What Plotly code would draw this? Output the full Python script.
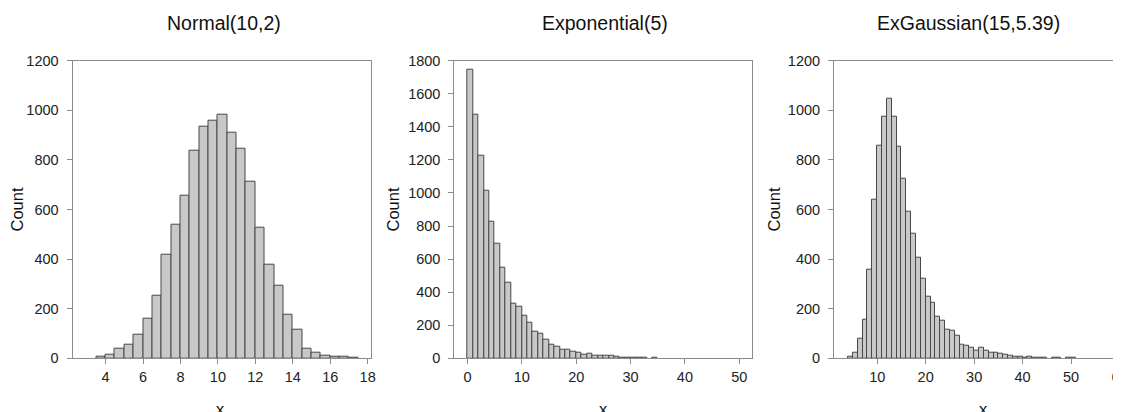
import plotly.graph_objects as go

# ---------------- data ----------------
normal_left = [3.5, 4.0, 4.5, 5.0, 5.5, 6.0, 6.5, 7.0, 7.5, 8.0, 8.5, 9.0, 9.5, 10.0,
               10.5, 11.0, 11.5, 12.0, 12.5, 13.0, 13.5, 14.0, 14.5, 15.0, 15.5, 16.0, 16.5, 17.0]
normal_counts = [7, 16, 40, 56, 97, 161, 254, 416, 538, 654, 836, 932, 957, 982,
                 911, 847, 711, 528, 377, 292, 176, 114, 38, 22, 11, 5, 7, 3]
normal_width = 0.5

expo_left = list(range(0, 35))
expo_counts = [1744, 1471, 1224, 1014, 828, 694, 546, 456, 328, 311,
               258, 216, 159, 147, 115, 84, 71, 50, 53, 37,
               32, 23, 28, 17, 18, 16, 13, 9, 6, 4,
               2, 1, 1, None, 1]
expo_width = 1.0

exg_left = list(range(4, 51))
exg_counts = [7, 23, 78, 157, 358, 638, 856, 974, 1047, 974,
              855, 726, 593, 503, 407, 319, 248, 225, 168, 150,
              114, 111, 91, 53, 51, 43, 32, 42, 30, 23,
              21, 19, 16, 11, 5, 5, 4, 5, 4, 1,
              1, None, 1, 1, None, 1, 1]
exg_width = 1.0

titles = ["Normal(10,2)", "Exponential(5)", "ExGaussian(15,5.39)"]
x_ticks = [list(range(4, 19, 2)), list(range(0, 51, 10)), list(range(10, 61, 10))]
y_ticks = [list(range(0, 1201, 200)), list(range(0, 1801, 200)), list(range(0, 1201, 200))]

# ---------------- layout geometry (screen pixels of the 1121x412 view) ----------------
PAGE_OFF = 8                      # default body margin of the html page
W, H = 1121 - PAGE_OFF, 412 - PAGE_OFF


def fx(px):
    return (px - PAGE_OFF) / W


def fy(py):
    return 1 - (py - PAGE_OFF) / H


panel_px = [(72.5, 371.0), (454.3, 752.3), (834.0, 1121.0)]
top_px, bot_px = 60.7, 358.3
x_ranges = [[2.23, 18.18], [-2.43, 52.4], [1.09, 60.3]]
y_ranges = [[0, 1200], [0, 1800], [0, 1200]]
title_x_px = [224, 605, 968]
title_y_px = 23
ylab_x_px = [16, 392, 773]
xlab_x_px = [220, 603, 983.5]
xlab_y_px = 409

FONT = "Liberation Sans, Arial, sans-serif"
AXIS_COL = "#8c8c8c"
BAR_FILL = "#c8c8c8"
BAR_LINE = "#474747"

fig = go.Figure()

datasets = [(normal_left, normal_counts, normal_width),
            (expo_left, expo_counts, expo_width),
            (exg_left, exg_counts, exg_width)]

for i, (lefts, counts, wdt) in enumerate(datasets):
    sfx = "" if i == 0 else str(i + 1)
    fig.add_trace(go.Bar(
        x=lefts, y=counts, width=wdt, offset=0,
        marker=dict(color=BAR_FILL, line=dict(color=BAR_LINE, width=1)),
        xaxis="x" + sfx, yaxis="y" + sfx, showlegend=False, hoverinfo="x+y"))

    x0, x1 = panel_px[i]
    common = dict(showgrid=False, zeroline=False, showline=True, linecolor=AXIS_COL,
                  linewidth=1, ticks="outside", ticklen=5, tickwidth=1, tickcolor=AXIS_COL,
                  tickfont=dict(family=FONT, size=14.5, color="#222222"), automargin=False,
                  ticklabeloverflow="allow")
    fig.layout["xaxis" + sfx] = dict(
        domain=[fx(x0), min(1.0, fx(x1))], range=x_ranges[i], tickmode="array",
        tickvals=x_ticks[i], anchor="y" + sfx, mirror=True,
        ticklabelstandoff=0, **common)
    fig.layout["yaxis" + sfx] = dict(
        domain=[fy(bot_px), fy(top_px)], range=y_ranges[i], tickmode="array",
        tickvals=y_ticks[i], anchor="x" + sfx, mirror=(i < 2),
        ticklabelstandoff=5, **common)

annotations = []
for i in range(3):
    annotations.append(dict(text=titles[i], xref="paper", yref="paper",
                            x=fx(title_x_px[i]), y=fy(title_y_px),
                            xanchor="center", yanchor="middle", showarrow=False,
                            font=dict(family=FONT, size=19.5, color="#111111")))
    annotations.append(dict(text="Count", xref="paper", yref="paper",
                            x=fx(ylab_x_px[i]), y=fy((top_px + bot_px) / 2),
                            xanchor="center", yanchor="middle", textangle=-90,
                            showarrow=False,
                            font=dict(family=FONT, size=16.5, color="#111111")))
    annotations.append(dict(text="x", xref="paper", yref="paper",
                            x=fx(xlab_x_px[i]), y=fy(xlab_y_px),
                            xanchor="center", yanchor="middle", showarrow=False,
                            font=dict(family=FONT, size=16.5, color="#111111")))

fig.update_layout(width=W, height=H, margin=dict(l=0, r=0, t=0, b=0),
                  paper_bgcolor="white", plot_bgcolor="white", template="none",
                  bargap=0, annotations=annotations)

fig.write_html("out.html")
